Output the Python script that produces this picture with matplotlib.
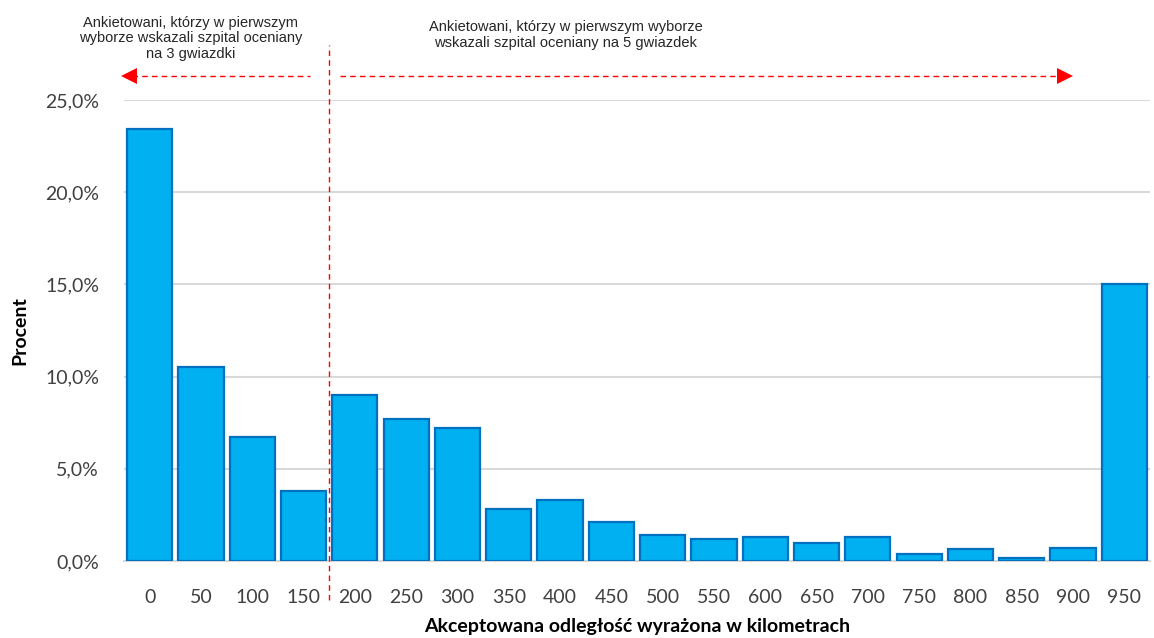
import numpy as np
import matplotlib.pyplot as plt

# odległość (km) i odsetek ankietowanych
odleglosc = ["0", "50", "100", "150", "200", "250", "300", "350", "400", "450",
             "500", "550", "600", "650", "700", "750", "800", "850", "900", "950"]
procent = [23.4, 10.5, 6.7, 3.8, 9.0, 7.7, 7.2, 2.8, 3.3, 2.1,
           1.4, 1.2, 1.3, 1.0, 1.3, 0.4, 0.65, 0.15, 0.7, 15.0]
y_ticks = [0, 5, 10, 15, 20, 25]

fig = plt.figure(figsize=(11.54, 6.38), dpi=100)
ax = fig.add_axes([0.1075, 0.1207, 0.889, 0.7226])

x = np.arange(len(odleglosc))
ax.bar(x, procent, width=0.88, color="#00B0F0", edgecolor="#0070C0",
       linewidth=1.6, zorder=3)

ax.set_xlim(-0.5, len(odleglosc) - 0.5)
ax.set_ylim(0, 25)
ax.set_yticks(y_ticks)
ax.set_yticklabels([f"{v:.1f}%".replace(".", ",") for v in y_ticks],
                   fontsize=14, color="#404040", family="Lato")
ax.set_xticks(x)
ax.set_xticklabels(odleglosc, fontsize=14, color="#404040", family="Lato")
ax.tick_params(axis="both", length=0)
ax.tick_params(axis="x", pad=20)
ax.tick_params(axis="y", pad=18)
ax.grid(axis="y", color="#D9D9D9", linewidth=1.5, zorder=0)
for s in ["top", "right", "left"]:
    ax.spines[s].set_visible(False)
ax.spines["bottom"].set_color("#D9D9D9")
ax.spines["bottom"].set_linewidth(1.5)

ax.set_ylabel("Procent", fontsize=14, fontweight="bold", family="Lato",
              color="black", labelpad=12)
ax.set_xlabel("Akceptowana odległość wyrażona w kilometrach", fontsize=14,
              fontweight="bold", family="Lato", color="black", labelpad=9)

# pionowa linia podziału między 150 a 200 km
ax.plot([3.5, 3.5], [-2.1, 28.0], color="red", linestyle=(0, (4, 3)),
        linewidth=1, clip_on=False, zorder=4)

# przerywane strzałki nad wykresem
arrow_y = 26.3
dash = (0, (4, 3))
ax.plot([-0.35, 3.13], [arrow_y, arrow_y], color="red", linestyle=dash,
        linewidth=1, clip_on=False)
ax.plot([-0.4], [arrow_y], marker="<", markersize=11, color="red",
        markeredgewidth=0, clip_on=False)
ax.plot([3.71, 17.8], [arrow_y, arrow_y], color="red", linestyle=dash,
        linewidth=1, clip_on=False)
ax.plot([17.85], [arrow_y], marker=">", markersize=11, color="red",
        markeredgewidth=0, clip_on=False)

fig.text(0.165, 0.940, "Ankietowani, którzy w pierwszym\nwyborze wskazali szpital oceniany\nna 3 gwiazdki",
         ha="center", va="center", fontsize=10.5, color="#262626",
         family="Liberation Sans", linespacing=1.15)
fig.text(0.490, 0.945, "Ankietowani, którzy w pierwszym wyborze\nwskazali szpital oceniany na 5 gwiazdek",
         ha="center", va="center", fontsize=10.5, color="#262626",
         family="Liberation Sans", linespacing=1.15)

fig.savefig("out.png", dpi=100)
